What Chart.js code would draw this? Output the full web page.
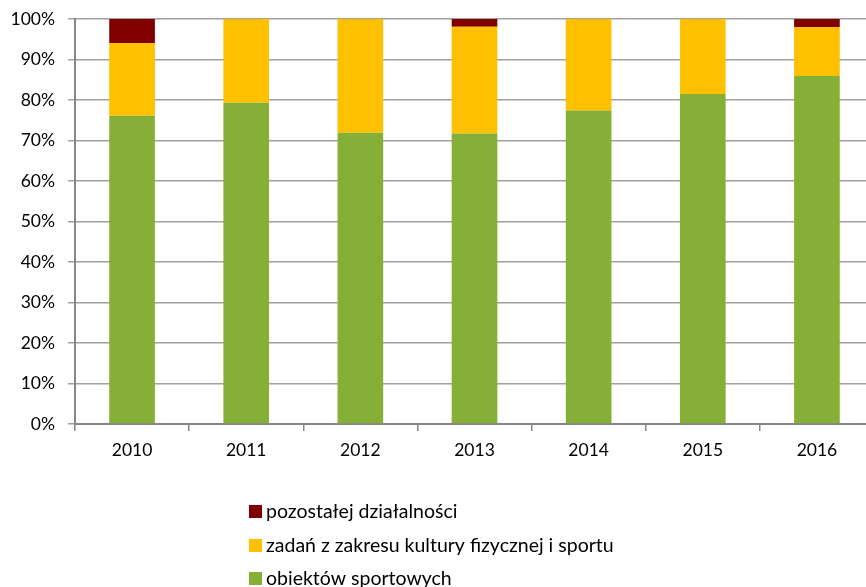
<!DOCTYPE html>
<html>
<head>
<meta charset="utf-8">
<script src="https://cdn.jsdelivr.net/npm/chart.js@4/dist/chart.umd.min.js"></script>
<style>
  html, body { margin: 0; padding: 0; background: #fff; overflow: hidden; }
  #wrap { width: 880px; height: 587px; }
</style>
</head>
<body>
<div id="wrap"><canvas id="chart1"></canvas></div>
<script>
let years = ["2010", "2011", "2012", "2013", "2014", "2015", "2016"];
let obiekty = [76.1, 79.3, 71.9, 71.7, 77.4, 81.5, 85.9];
let zadania = [18.0, 20.7, 28.1, 26.4, 22.6, 18.5, 12.1];
let pozostale = [5.9, 0, 0, 1.9, 0, 0, 2.0];
let yTicks = [0, 10, 20, 30, 40, 50, 60, 70, 80, 90, 100];

const font = "Lato, 'Open Sans', sans-serif";

// legend drawn in a column under the chart, top entry first
const columnLegend = {
  id: "columnLegend",
  afterDraw(chart) {
    const c = chart.ctx;
    const rows = [511, 545, 578];
    const order = [2, 1, 0];
    c.save();
    c.font = "19.5px " + font;
    c.textBaseline = "middle";
    order.forEach((di, i) => {
      let ds = chart.data.datasets[di];
      c.fillStyle = ds.backgroundColor;
      c.fillRect(249, rows[i] - 6, 13, 13);
      c.fillStyle = "#000";
      c.fillText(ds.label, 266, rows[i] + 1);
    });
    c.restore();
  },
};

let ctx = document.getElementById("chart1");
const graph = new Chart(ctx, {
  type: "bar",
  data: {
    labels: years,
    datasets: [
      {
        label: "obiektów sportowych",
        data: obiekty,
        backgroundColor: "#86AF38",
      },
      {
        label: "zadań z zakresu kultury fizycznej i sportu",
        data: zadania,
        backgroundColor: "#FFC000",
      },
      {
        label: "pozostałej działalności",
        data: pozostale,
        backgroundColor: "#800000",
      },
    ],
  },
  options: {
    responsive: true,
    maintainAspectRatio: false,
    animation: false,
    categoryPercentage: 1,
    barPercentage: 0.4,
    layout: { padding: { top: 19, left: 0, right: 6, bottom: 0 } },
    plugins: {
      legend: { display: false },
      tooltip: { enabled: false },
    },
    scales: {
      x: {
        stacked: true,
        grid: {
          offset: true,
          drawOnChartArea: false,
          drawTicks: true,
          tickLength: 7,
          color: "#868686",
          lineWidth: 1.5,
        },
        border: { color: "#868686", width: 2 },
        ticks: { color: "#000", padding: 9, font: { family: font, size: 17.5 } },
        afterFit(scale) {
          scale.height = 163;
        },
      },
      y: {
        stacked: true,
        min: 0,
        max: 100,
        afterBuildTicks(scale) {
          scale.ticks = yTicks.map((v) => ({ value: v }));
        },
        grid: {
          color: "#a0a0a0",
          lineWidth: 1.5,
          tickLength: 7,
        },
        border: { color: "#868686", width: 2 },
        ticks: {
          color: "#000",
          padding: 13,
          font: { family: font, size: 17.5 },
          callback: (v) => v + "%",
        },
        afterFit(scale) {
          scale.width = 75;
          scale.paddingTop = 0;
          scale.paddingBottom = 0;
        },
      },
    },
  },
  plugins: [columnLegend],
});
</script>
</body>
</html>
